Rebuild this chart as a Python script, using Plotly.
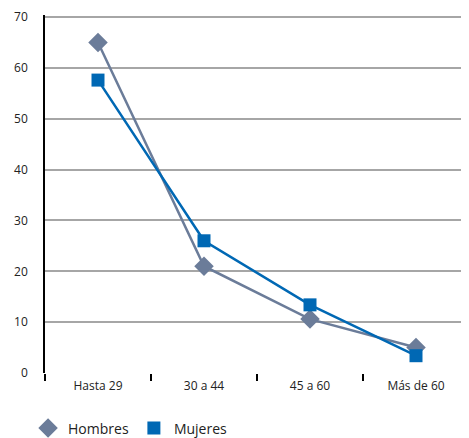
import plotly.graph_objects as go

categories = ["Hasta 29", "30 a 44", "45 a 60", "Más de 60"]
hombres = [65.0, 21.0, 10.6, 5.0]
mujeres = [57.6, 26.0, 13.4, 3.4]
y_ticks = [0, 10, 20, 30, 40, 50, 60, 70]

c_h = "#6B7C99"
c_m = "#0068B4"

fig = go.Figure()
fig.add_trace(go.Scatter(x=categories, y=hombres, mode="lines+markers", name="Hombres",
                         line=dict(color=c_h, width=2.5),
                         marker=dict(symbol="diamond", size=15, color=c_h), showlegend=False))
fig.add_trace(go.Scatter(x=categories, y=mujeres, mode="lines+markers", name="Mujeres",
                         line=dict(color=c_m, width=2.5),
                         marker=dict(symbol="square", size=13, color=c_m), showlegend=False))
fig.add_trace(go.Scatter(x=[None], y=[None], mode="markers", name="Hombres",
                         marker=dict(symbol="diamond", size=15, color=c_h)))
fig.add_trace(go.Scatter(x=[None], y=[None], mode="markers", name="Mujeres",
                         marker=dict(symbol="square", size=13, color=c_m)))

fig.update_layout(
    width=461, height=430,
    margin=dict(l=37, r=0, t=7, b=65, autoexpand=False),
    paper_bgcolor="white", plot_bgcolor="white",
    font=dict(family="Open Sans, Noto Sans, sans-serif", size=12, color="#222"),
    legend=dict(orientation="h", x=-0.04, y=-0.155, xanchor="left", yanchor="middle",
                font=dict(size=14), itemwidth=30, tracegroupgap=0),
)
fig.update_xaxes(type="category", categoryorder="array", categoryarray=categories,
                 range=[-0.5, 3.5], showgrid=False, zeroline=False, showline=False,
                 ticks="outside", tickson="boundaries", ticklen=7, tickwidth=1.5,
                 tickcolor="black", tickfont=dict(size=12), ticklabelstandoff=4)
fig.update_yaxes(range=[0, 70.4], tickvals=y_ticks, showgrid=True, gridcolor="#A6A6A6",
                 gridwidth=1.5, zeroline=False, showline=True, linecolor="black",
                 linewidth=1.5, ticks="", tickfont=dict(size=12), ticklabelstandoff=13)

fig.write_html("out.html")
